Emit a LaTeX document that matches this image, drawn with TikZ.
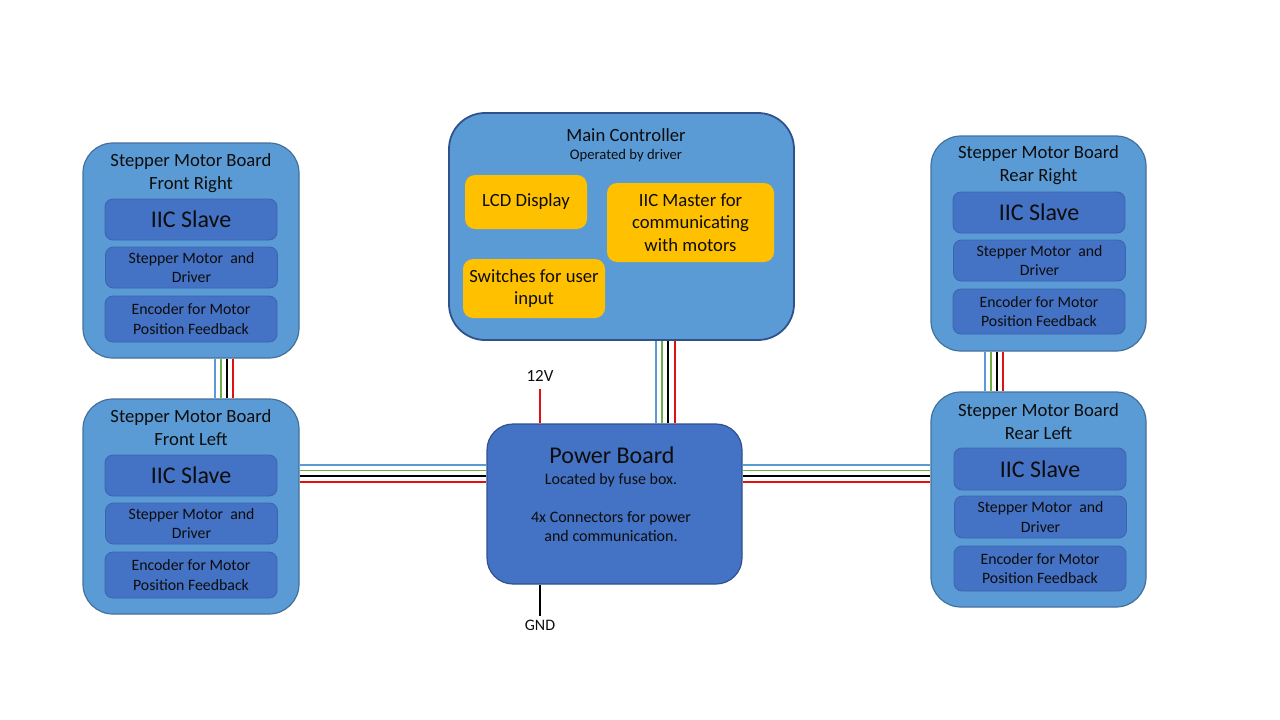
\documentclass[tikz,border=0pt]{standalone}
\usepackage{fontspec}
\setmainfont{Carlito}
\newcommand\myfs[2]{\fontsize{#1}{#2}\selectfont}
\definecolor{boardc}{HTML}{5B9BD5}
\definecolor{boardb}{HTML}{41719C}
\definecolor{innerc}{HTML}{4472C4}
\definecolor{innerb}{HTML}{3A64B0}
\definecolor{darkb}{HTML}{2F528F}
\definecolor{yel}{HTML}{FFC000}
\definecolor{txt}{HTML}{0D0D0D}
\definecolor{wblue}{HTML}{5B9BD5}
\definecolor{wgreen}{HTML}{70AD47}
\definecolor{wred}{RGB}{222,16,16}
\tikzset{
  board/.style={draw=boardb, fill=boardc, line width=1.2pt, rounded corners=30pt,
    minimum width=216pt, minimum height=215pt, inner sep=0pt},
  title/.style={text=txt, align=center, font=\myfs{18.67}{23}, inner sep=0pt},
  inbox/.style={draw=innerb, fill=innerc, line width=0.8pt, rounded corners=8pt,
    minimum width=172pt, inner sep=0pt, text=txt, align=center},
  big/.style={inbox, minimum height=41pt, font=\myfs{24}{28}},
  small/.style={inbox, font=\myfs{15.8}{19.5}},
  yelbox/.style={fill=yel, rounded corners=10pt, inner sep=0pt, text=txt,
    align=center, font=\myfs{18.67}{22.5}},
  wire/.style={line width=1.9pt},
  lbl/.style={text=txt, inner sep=0pt, font=\myfs{16}{19}}
}
\begin{document}
\begin{tikzpicture}[x=1pt,y=-1pt]
\useasboundingbox (0,0) rectangle (1280,720);

% Front Right
\node[board] (fr) at (191,250.5) {};
\node[title] (frt) at (191,173.5) {Stepper Motor Board\\Front Right};
\node[big] (fr1) at (191,219.5) {IIC Slave};
\node[small, minimum height=41pt] (fr2) at (191.5,267.5) {Stepper Motor\ \ and\\Driver};
\node[small, minimum height=46pt] (fr3) at (191,319) {Encoder for Motor\\Position Feedback};

% Front Left
\node[board] (fl) at (191,506.5) {};
\node[title] (flt) at (191,428) {Stepper Motor Board\\Front Left};
\node[big] (fl1) at (191,475.5) {IIC Slave};
\node[small, minimum height=41pt] (fl2) at (191.5,523.5) {Stepper Motor\ \ and\\Driver};
\node[small, minimum height=46pt] (fl3) at (191,575) {Encoder for Motor\\Position Feedback};

% Rear Right
\node[board, minimum width=215pt] (rr) at (1038.5,243.5) {};
\node[title] (rrt) at (1038.5,165.5) {Stepper Motor Board\\Rear Right};
\node[big] (rr1) at (1039,212.5) {IIC Slave};
\node[small, minimum height=41pt] (rr2) at (1039.5,260.5) {Stepper Motor\ \ and\\Driver};
\node[small, minimum height=45pt] (rr3) at (1039,311.5) {Encoder for Motor\\Position Feedback};

% Rear Left
\node[board, minimum width=215pt] (rl) at (1038.5,499.5) {};
\node[title] (rlt) at (1038.5,422) {Stepper Motor Board\\Rear Left};
\node[big, minimum height=42pt] (rl1) at (1040,469) {IIC Slave};
\node[small, minimum height=42pt] (rl2) at (1040.5,517) {Stepper Motor\ \ and\\Driver};
\node[small, minimum height=45pt] (rl3) at (1040,568.5) {Encoder for Motor\\Position Feedback};

% Main controller
\node[draw=darkb, fill=boardc, line width=1.8pt, rounded corners=36pt,
  minimum width=345pt, minimum height=227pt, inner sep=0pt] (main) at (621.5,226.5) {};
\node[title] (mt) at (626,135.5) {Main Controller};
\node[text=txt, inner sep=0pt, font=\myfs{14.67}{17}] (mst) at (626,156) {Operated by driver};
\node[yelbox, minimum width=122pt, minimum height=54pt] (lcd) at (526,202) {LCD Display};
\node[yelbox, minimum width=167pt, minimum height=79pt] (iicm) at (690.5,222.5) {IIC Master for\\communicating\\with motors};
\node[yelbox, minimum width=142pt, minimum height=59pt] (sw) at (534,288.5) {Switches for user\\input};

% Power board
\node[draw=darkb, fill=innerc, line width=1.2pt, rounded corners=26pt,
  minimum width=255pt, minimum height=160pt, inner sep=0pt] (pb) at (614.5,504) {};
\node[text=txt, inner sep=0pt, font=\myfs{24}{28}] (pbt) at (612,455) {Power Board};
\node[lbl, align=center] (pbs) at (611,507.5) {Located by fuse box.\\[19pt]4x Connectors for power\\and communication.};

% 12V and GND
\node[lbl, font=\myfs{17}{20}] (v12l) at (540,376) {12V};
\coordinate (v12) at (540,389);
\draw[wire, wred] (v12) -- (v12 |- pb.north);
\node[lbl] (gndl) at (540,625) {GND};
\coordinate (gnd) at (540,616);
\draw[wire, black] (gnd |- pb.south) -- (gnd);

% Bundle: front right -> front left
\foreach \dx/\c in {24/wblue, 30/wgreen, 36/black, 42/wred}{
  \draw[wire, \c] ([xshift=\dx pt]fr.south) -- ([xshift=\dx pt]fl.north);
}
% Bundle: rear right -> rear left
\foreach \dx/\c in {-53.5/wblue, -47.5/wgreen, -41.5/black, -35.5/wred}{
  \draw[wire, \c] ([xshift=\dx pt]rr.south) -- ([xshift=\dx pt]rl.north);
}
% Bundle: main -> power
\foreach \dx/\c in {34.5/wblue, 40.5/wgreen, 46.5/black, 53.5/wred}{
  \draw[wire, \c] ([xshift=\dx pt]main.south) -- ([xshift=\dx pt]main.south |- pb.north);
}
% Horizontal bundles
\coordinate (h1) at (0,465);
\coordinate (h2) at (0,470.5);
\coordinate (h3) at (0,476);
\coordinate (h4) at (0,482);
\foreach \h/\c in {h1/wblue, h2/wgreen, h3/black, h4/wred}{
  \draw[wire, \c] (fl.east |- \h) -- (pb.west |- \h);
  \draw[wire, \c] (pb.east |- \h) -- (rl.west |- \h);
}
\end{tikzpicture}
\end{document}
